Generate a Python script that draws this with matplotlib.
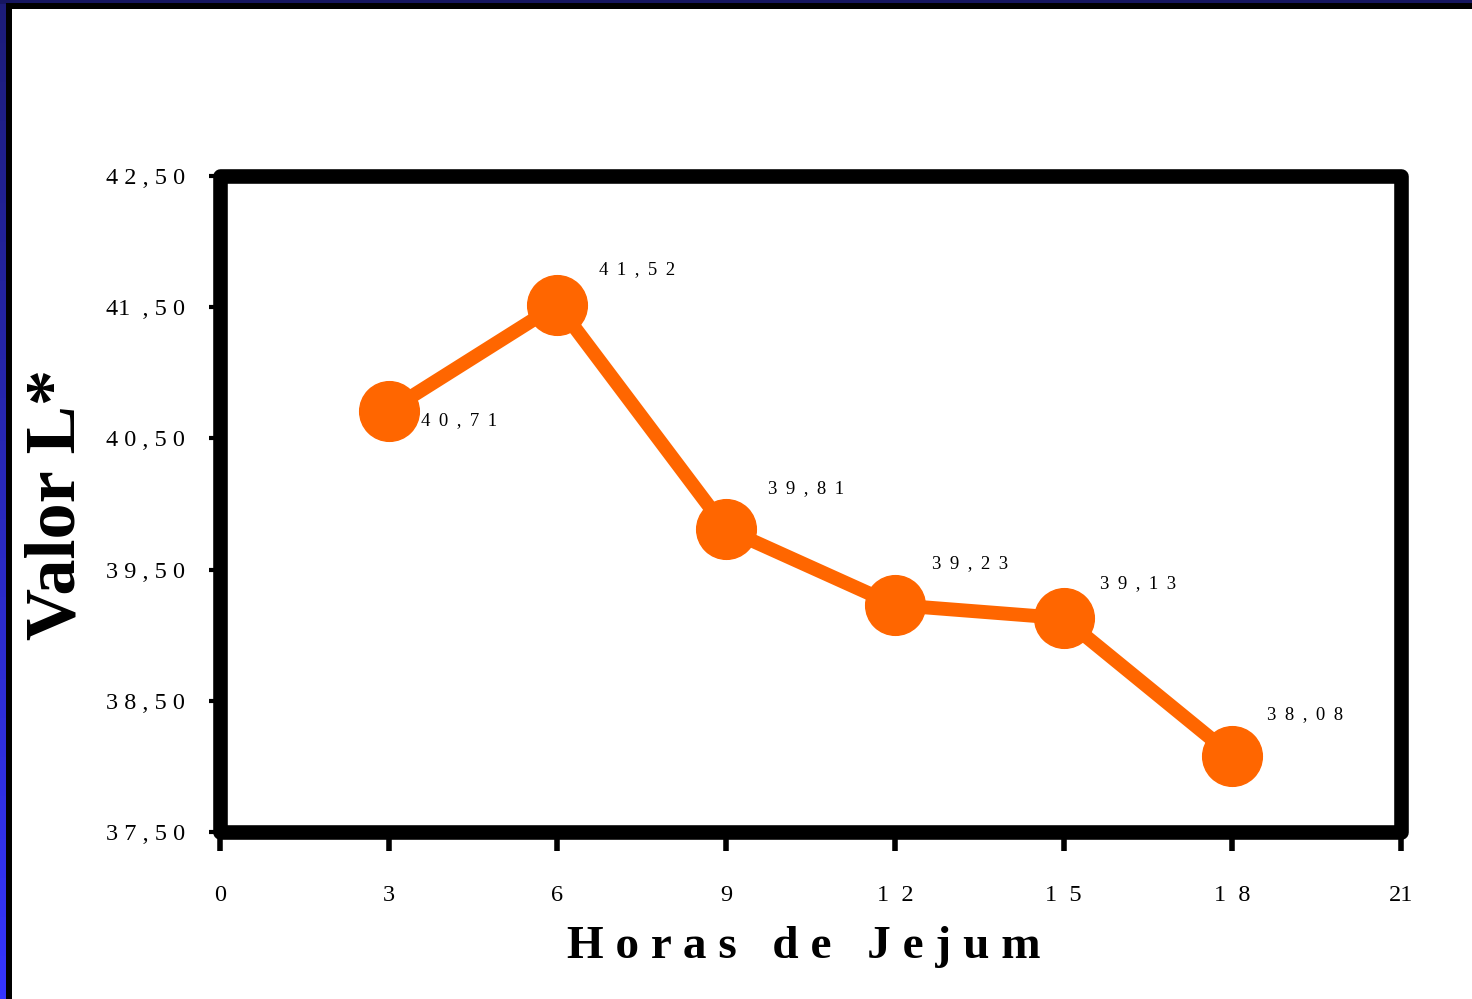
import numpy as np
import matplotlib
matplotlib.use("Agg")
import matplotlib.pyplot as plt
from matplotlib.patches import Rectangle

# Fasting hours vs. L* colour value
hours = [3, 6, 9, 12, 15, 18]
valor_l = [40.71, 41.52, 39.81, 39.23, 39.13, 38.08]

x_ticks = [0, 3, 6, 9, 12, 15, 18, 21]
x_tick_labels = ["0", "3", "6", "9", "1  2", "1  5", "1  8", "21"]
y_ticks = [37.5, 38.5, 39.5, 40.5, 41.5, 42.5]
y_tick_labels = ["3 7 , 5 0", "3 8 , 5 0", "3 9 , 5 0", "4 0 , 5 0", "41  , 5 0", "4 2 , 5 0"]

SERIF = ["Liberation Serif", "DejaVu Serif"]
ORANGE = "#FF6600"


def spaced(text, sep=" \u2009"):
    return sep.join(text)


fig = plt.figure(figsize=(14.72, 9.99), dpi=100)
fig.patch.set_facecolor("white")

# slide edge: blue gradient strip on the left, dark bands on top/left
W, H = 1472, 999
grad_ax = fig.add_axes([0, 0, 6.5 / W, 1])
grad = np.linspace(0, 1, 256).reshape(-1, 1)
cmap = matplotlib.colors.LinearSegmentedColormap.from_list("edge", ["#3535ff", "#1c1c78"])
grad_ax.imshow(grad, aspect="auto", cmap=cmap, origin="lower")
grad_ax.axis("off")
fig.patches.append(Rectangle((6.5 / W, 0), 5.5 / W, 1, transform=fig.transFigure,
                             facecolor="black", edgecolor="none", zorder=5))
fig.patches.append(Rectangle((0, 1 - 3.5 / H), 1, 3.5 / H, transform=fig.transFigure,
                             facecolor="#161660", edgecolor="none", zorder=6))
fig.patches.append(Rectangle((6.5 / W, 1 - 9 / H), 1, 5.5 / H, transform=fig.transFigure,
                             facecolor="black", edgecolor="none", zorder=6))

ax = fig.add_axes([220 / W, 1 - 832 / H, (1401 - 220) / W, (832 - 176) / H])
ax.set_xlim(0, 21)
ax.set_ylim(37.5, 42.5)

ax.plot(hours, valor_l, color=ORANGE, lw=10, marker="o", markersize=43,
        markerfacecolor=ORANGE, markeredgecolor=ORANGE, zorder=3, clip_on=False)

# value labels next to each point
offsets = [(23, -7), (30, 25), (30, 29), (27, 30), (26, 25), (25, 30)]
for xv, yv, off in zip(hours, valor_l, offsets):
    lbl = f"{yv:.2f}".replace(".", ",")
    ax.annotate(spaced(lbl), (xv, yv), xytext=off, textcoords="offset points",
                fontsize=13.5, family=SERIF, color="black", ha="left", va="center")

# thick black frame with rounded outer corners
for s in ax.spines.values():
    s.set_visible(False)
ax.add_patch(Rectangle((0, 0), 1, 1, transform=ax.transAxes, fill=False,
                       edgecolor="black", lw=10.5, joinstyle="round",
                       clip_on=False, zorder=4))

ax.set_xticks(x_ticks)
ax.set_xticklabels(x_tick_labels, family=SERIF, fontsize=17.5)
ax.set_yticks(y_ticks)
ax.set_yticklabels(y_tick_labels, family=SERIF, fontsize=17.5)
ax.tick_params(axis="x", direction="out", length=14, width=4, pad=24, color="black")
ax.tick_params(axis="y", direction="out", length=8, width=3, pad=17, color="black")

ax.set_xlabel("H o r a s   d e   J e j u m", family=SERIF, fontsize=34,
              fontweight="bold", labelpad=16)
ax.xaxis.set_label_coords(0.4945, -0.143)
ax.set_ylabel("Valor L*", family=SERIF, fontsize=52, fontweight="bold", labelpad=12)

fig.savefig("out.png", dpi=100, facecolor="white")
